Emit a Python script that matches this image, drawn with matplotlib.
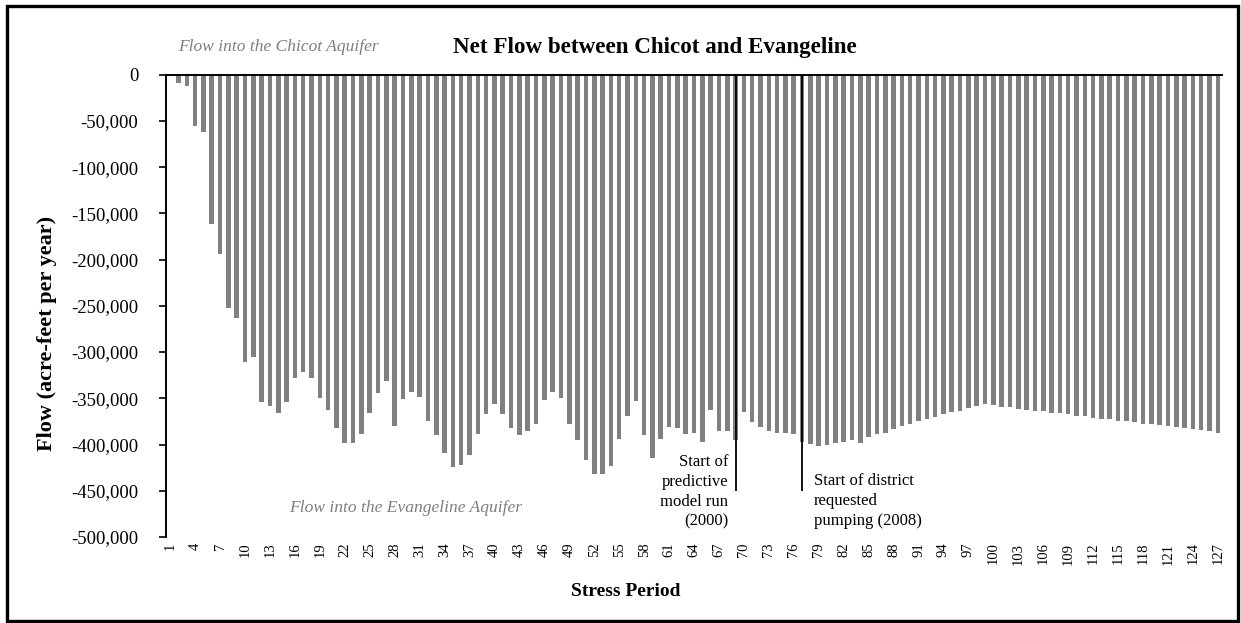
import matplotlib
matplotlib.use("Agg")
import matplotlib.pyplot as plt
from matplotlib.patches import Rectangle
from matplotlib.ticker import FuncFormatter, FixedLocator

# Net flow between the Chicot and Evangeline aquifers, acre-feet per year,
# one value per stress period (negative = flow into the Evangeline).
stress_period = list(range(1, 128))
net_flow = [
    0, -8600, -11800, -56000, -62100, -162000, -194300, -252800, -262900, -310300,
    -305000, -354100, -358800, -365600, -354100, -327900, -321800, -327900, -349500, -362400,
    -381800, -398300, -398300, -388600, -365600, -344400, -331500, -380400, -350500, -342700,
    -349100, -375000, -390100, -409500, -423800, -422400, -410900, -388300, -367400, -355900,
    -367400, -381800, -390100, -385400, -377500, -351300, -343300, -349500, -377500, -395500,
    -416300, -432400, -432400, -422700, -393600, -369200, -352400, -390100, -414500, -393600,
    -381100, -382100, -388300, -387200, -397200, -362400, -385400, -385400, -394700, -364900,
    -375700, -381100, -385800, -387200, -387500, -388600, -397200, -399000, -401500, -400100,
    -398300, -397200, -395500, -398300, -391800, -388300, -387500, -383600, -380400, -377500,
    -375000, -372900, -370300, -366700, -364900, -363200, -360600, -357800, -355900, -357000,
    -359500, -359900, -361300, -362400, -364200, -364200, -365600, -365600, -367400, -369200,
    -369600, -371300, -372900, -372900, -374300, -375000, -375700, -377500, -378200, -379300,
    -380400, -381100, -382100, -383600, -384700, -385400, -387200,
]
tick_periods = list(range(1, 128, 3))
y_ticks = list(range(0, -500001, -50000))

# Stress periods marking model milestones
predictive_start = 69   # start of predictive model run (2000)
district_start = 77     # start of district requested pumping (2008)
marker_depth = -450000

SERIF = "Liberation Serif"

W, H = 1241, 623
fig = plt.figure(figsize=(W / 100, H / 100), dpi=100)
fig.patch.set_facecolor("white")

ax = fig.add_axes([166 / W, 1 - 537 / H, (1222 - 166) / W, (537 - 74.7) / H])
ax.bar(stress_period, net_flow, width=0.55, color="#808080", zorder=2)

ax.set_xlim(0.5, 127.5)
ax.set_ylim(-500000, 0)

for s in ["right", "bottom"]:
    ax.spines[s].set_visible(False)
ax.spines["left"].set_linewidth(1.4)
ax.spines["top"].set_linewidth(1.4)
ax.spines["top"].set_zorder(3)

ax.yaxis.set_major_locator(FixedLocator(y_ticks))
ax.yaxis.set_major_formatter(FuncFormatter(lambda v, p: f"{int(v):,}"))
ax.tick_params(axis="y", direction="out", length=5, width=1.2, pad=15,
               labelsize=13.5)
for lab in ax.get_yticklabels():
    lab.set_fontfamily(SERIF)

ax.set_xticks(tick_periods)
ax.set_xticklabels([str(t) for t in tick_periods], rotation=90,
                   fontfamily=SERIF, fontsize=10.5)
ax.tick_params(axis="x", length=0, pad=4)

# Axis titles
fig.text(47 / W, 1 - 333 / H, "Flow (acre-feet per year)", rotation=90,
         ha="center", va="center", fontfamily=SERIF, fontweight="bold",
         fontsize=16)
fig.text(626 / W, 1 - 592 / H, "Stress Period", ha="center", va="center",
         fontfamily=SERIF, fontweight="bold", fontsize=14)

# Milestone lines and their notes
ax.vlines([predictive_start, district_start], marker_depth, 0,
          colors="black", linewidth=1.3, zorder=3)
ax.text(predictive_start - 0.9, -410000,
        "Start of\npredictive\nmodel run\n(2000)",
        ha="right", va="top", fontfamily=SERIF, fontsize=12,
        linespacing=1.33)
ax.text(district_start + 1.4, -431000,
        "Start of district\nrequested\npumping (2008)",
        ha="left", va="top", fontfamily=SERIF, fontsize=12,
        linespacing=1.33)

# Direction labels
fig.text(278 / W, 1 - 47 / H, "Flow into the Chicot Aquifer",
         ha="center", va="center", fontfamily=SERIF, style="italic",
         color="#7f7f7f", fontsize=12.5)
fig.text(406 / W, 1 - 508 / H, "Flow into the Evangeline Aquifer",
         ha="center", va="center", fontfamily=SERIF, style="italic",
         color="#7f7f7f", fontsize=12.6)

fig.text(655 / W, 1 - 47 / H, "Net Flow between Chicot and Evangeline",
         ha="center", va="center", fontfamily=SERIF, fontweight="bold",
         fontsize=16.6)

# Frame around the whole chart
fig.add_artist(Rectangle((6.5 / W, 2 / H), (1237.5 - 6.5) / W, (617.5 - 2) / H,
                         transform=fig.transFigure, fill=False,
                         edgecolor="black", linewidth=2.4))

fig.savefig("out.png", dpi=100, facecolor="white")
